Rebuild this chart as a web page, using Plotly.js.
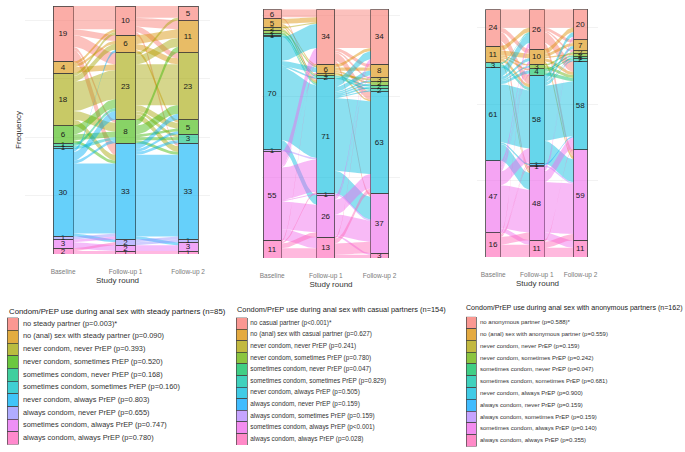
<!DOCTYPE html>
<html>
<head>
<meta charset="utf-8">
<script src="https://cdn.plot.ly/plotly-3.0.1.min.js"></script>
<style>body{margin:0;background:#fff}#chart{width:685px;height:452px}</style>
</head>
<body>
<div id="chart"></div>
<script>
var rounds = ['Baseline', 'Follow-up 1', 'Follow-up 2'];

// steady partners (n=85)
var steadyTitle = 'Condom/PrEP use during anal sex with steady partners (n=85)';
var steadyLabels = [
  'no steady partner (p=0.003)*',
  'no (anal) sex with steady partner (p=0.090)',
  'never condom, never PrEP (p=0.393)',
  'never condom, sometimes PrEP (p=0.520)',
  'sometimes condom, never PrEP (p=0.168)',
  'sometimes condom, sometimes PrEP (p=0.160)',
  'never condom, always PrEP (p=0.803)',
  'always condom, never PrEP (p=0.655)',
  'sometimes condom, always PrEP (p=0.747)',
  'always condom, always PrEP (p=0.780)'
];
var steadyColors = ['#F8766D', '#D89000', '#A3A500', '#39B600', '#00BF7D', '#00BFC4', '#00B0F6', '#9590FF', '#E76BF3', '#FF62BC'];
var steadyBaseline = [19, 4, 18, 6, 1, 1, 30, 1, 3, 2];
var steadyFollowUp1 = [10, 6, 23, 8, 0, 0, 33, 2, 2, 1];
var steadyFollowUp2 = [5, 11, 23, 5, 3, 0, 33, 1, 3, 1];
var steadyFlow1 = [
  [8, 2, 4, 1, 0, 0, 4, 0, 0, 0],
  [1, 1, 2, 0, 0, 0, 0, 0, 0, 0],
  [1, 2, 10, 3, 0, 0, 2, 0, 0, 0],
  [0, 0, 3, 2, 0, 0, 1, 0, 0, 0],
  [0, 0, 1, 0, 0, 0, 0, 0, 0, 0],
  [0, 0, 0, 1, 0, 0, 0, 0, 0, 0],
  [0, 1, 3, 1, 0, 0, 24, 1, 0, 0],
  [0, 0, 0, 0, 0, 0, 1, 0, 0, 0],
  [0, 0, 0, 0, 0, 0, 1, 0, 2, 0],
  [0, 0, 0, 0, 0, 0, 0, 1, 0, 1]
];
var steadyFlow2 = [
  [4, 3, 2, 0, 0, 0, 1, 0, 0, 0],
  [0, 3, 2, 1, 0, 0, 0, 0, 0, 0],
  [1, 3, 14, 2, 1, 0, 2, 0, 0, 0],
  [0, 2, 3, 1, 1, 0, 1, 0, 0, 0],
  [0, 0, 0, 0, 0, 0, 0, 0, 0, 0],
  [0, 0, 0, 0, 0, 0, 0, 0, 0, 0],
  [0, 0, 2, 1, 1, 0, 28, 0, 1, 0],
  [0, 0, 0, 0, 0, 0, 1, 1, 0, 0],
  [0, 0, 0, 0, 0, 0, 0, 0, 2, 0],
  [0, 0, 0, 0, 0, 0, 0, 0, 0, 1]
];

// casual partners (n=154)
var casualTitle = 'Condom/PrEP use during anal sex with casual partners (n=154)';
var casualLabels = [
  'no casual partner (p<0.001)*',
  'no (anal) sex with casual partner (p=0.627)',
  'never condom, never PrEP (p=0.241)',
  'never condom, sometimes PrEP (p=0.780)',
  'sometimes condom, never PrEP (p=0.047)',
  'sometimes condom, sometimes PrEP (p=0.829)',
  'never condom, always PrEP (p=0.505)',
  'always condom, never PrEP (p=0.159)',
  'always condom, sometimes PrEP (p=0.159)',
  'sometimes condom, always PrEP (p<0.001)',
  'always condom, always PrEP (p=0.028)'
];
var hue11 = ['#F8766D', '#DB8E00', '#AEA200', '#64B200', '#00BD5C', '#00C1A7', '#00BADE', '#00A6FF', '#B385FF', '#EF67EB', '#FF63B6'];
var casualBaseline = [6, 5, 2, 2, 1, 1, 70, 0, 1, 55, 11];
var casualFollowUp1 = [34, 6, 1, 0, 0, 2, 71, 0, 1, 26, 13];
var casualFollowUp2 = [34, 8, 3, 2, 2, 2, 63, 0, 0, 37, 3];
var casualFlow1 = [
  [5, 0, 0, 0, 0, 0, 1, 0, 0, 0, 0],
  [3, 1, 0, 0, 0, 0, 1, 0, 0, 0, 0],
  [1, 0, 1, 0, 0, 0, 0, 0, 0, 0, 0],
  [0, 1, 0, 0, 0, 0, 1, 0, 0, 0, 0],
  [0, 0, 0, 0, 0, 1, 0, 0, 0, 0, 0],
  [0, 0, 0, 0, 0, 0, 1, 0, 0, 0, 0],
  [15, 3, 0, 0, 0, 1, 45, 0, 0, 6, 0],
  [0, 0, 0, 0, 0, 0, 0, 0, 0, 0, 0],
  [0, 0, 0, 0, 0, 0, 1, 0, 0, 0, 0],
  [9, 1, 0, 0, 0, 0, 20, 0, 1, 17, 7],
  [1, 0, 0, 0, 0, 0, 1, 0, 0, 3, 6]
];
var casualFlow2 = [
  [24, 2, 1, 0, 0, 0, 5, 0, 0, 2, 0],
  [2, 2, 0, 1, 0, 0, 1, 0, 0, 0, 0],
  [0, 0, 1, 0, 0, 0, 0, 0, 0, 0, 0],
  [0, 0, 0, 0, 0, 0, 0, 0, 0, 0, 0],
  [0, 0, 0, 0, 0, 0, 0, 0, 0, 0, 0],
  [0, 0, 0, 0, 1, 1, 0, 0, 0, 0, 0],
  [5, 3, 1, 1, 1, 1, 45, 0, 0, 14, 0],
  [0, 0, 0, 0, 0, 0, 0, 0, 0, 0, 0],
  [0, 0, 0, 0, 0, 0, 0, 0, 0, 1, 0],
  [2, 1, 0, 0, 0, 0, 9, 0, 0, 13, 1],
  [1, 0, 0, 0, 0, 0, 3, 0, 0, 7, 2]
];

// anonymous partners (n=162)
var anonTitle = 'Condom/PrEP use during anal sex with anonymous partners (n=162)';
var anonLabels = [
  'no anonymous partner (p=0.588)*',
  'no (anal) sex with anonymous partner (p=0.559)',
  'never condom, never PrEP (p=0.159)',
  'never condom, sometimes PrEP (p=0.242)',
  'sometimes condom, never PrEP (p=0.047)',
  'sometimes condom, sometimes PrEP (p=0.681)',
  'never condom, always PrEP (p=0.900)',
  'always condom, never PrEP (p=0.159)',
  'always condom, sometimes PrEP (p=0.159)',
  'sometimes condom, always PrEP (p=0.140)',
  'always condom, always PrEP (p=0.355)'
];
var anonBaseline = [24, 11, 0, 0, 0, 3, 61, 0, 0, 47, 16];
var anonFollowUp1 = [26, 10, 0, 3, 4, 0, 58, 1, 1, 48, 11];
var anonFollowUp2 = [20, 7, 2, 2, 1, 2, 58, 0, 0, 59, 11];
var anonFlow1 = [
  [12, 3, 0, 0, 0, 0, 6, 0, 0, 3, 0],
  [3, 3, 0, 1, 1, 0, 2, 0, 0, 1, 0],
  [0, 0, 0, 0, 0, 0, 0, 0, 0, 0, 0],
  [0, 0, 0, 0, 0, 0, 0, 0, 0, 0, 0],
  [0, 0, 0, 0, 0, 0, 0, 0, 0, 0, 0],
  [1, 0, 0, 0, 0, 0, 2, 0, 0, 0, 0],
  [6, 2, 0, 1, 2, 0, 38, 1, 0, 11, 0],
  [0, 0, 0, 0, 0, 0, 0, 0, 0, 0, 0],
  [0, 0, 0, 0, 0, 0, 0, 0, 0, 0, 0],
  [3, 2, 0, 1, 1, 0, 9, 0, 0, 28, 3],
  [1, 0, 0, 0, 0, 0, 1, 0, 1, 5, 8]
];
var anonFlow2 = [
  [12, 2, 1, 0, 0, 0, 7, 0, 0, 4, 0],
  [3, 2, 0, 1, 0, 0, 2, 0, 0, 2, 0],
  [0, 0, 0, 0, 0, 0, 0, 0, 0, 0, 0],
  [0, 0, 1, 0, 0, 0, 2, 0, 0, 0, 0],
  [0, 0, 0, 1, 0, 1, 2, 0, 0, 0, 0],
  [0, 0, 0, 0, 0, 0, 0, 0, 0, 0, 0],
  [3, 2, 0, 0, 1, 1, 36, 0, 0, 15, 0],
  [0, 0, 0, 0, 0, 0, 1, 0, 0, 0, 0],
  [0, 0, 0, 0, 0, 0, 0, 0, 0, 1, 0],
  [2, 1, 0, 0, 0, 0, 7, 0, 0, 33, 5],
  [0, 0, 0, 0, 0, 0, 1, 0, 0, 4, 6]
];

var FONT = 'Liberation Sans, Arial, sans-serif';
var W = 685, H = 452;
function px(v) { return v / W; }
function py(v) { return 1 - v / H; }
function sum(a) { return a.reduce(function (s, v) { return s + v; }, 0); }
function tops(col) {
  var t = [], acc = sum(col);
  for (var k = 0; k < col.length; k++) { t.push(acc); acc -= col[k]; }
  return t;
}
function rgba(hex, a) {
  var n = parseInt(hex.slice(1), 16);
  return 'rgba(' + (n >> 16) + ',' + ((n >> 8) & 255) + ',' + (n & 255) + ',' + a + ')';
}
function ease(t) { return (1 - Math.cos(Math.PI * t)) / 2; }

var panels = [
  {labels: steadyLabels, colors: steadyColors, counts: [steadyBaseline, steadyFollowUp1, steadyFollowUp2],
   flows: [steadyFlow1, steadyFlow2], title: steadyTitle, ax: '', lax: '4', bw: 0.32,
   frame: {x0: 25, x1: 210, y0: 6, y1: 254, xr: [0.39, 3.35], dtick: 20},
   leg: {x0: 7, unit: 11, top: 317.6, row: 12.7, font: 7.4, gap: 0.45, tx: 7, ty: 311.5, tfont: 7.8}},
  {labels: casualLabels, colors: hue11, counts: [casualBaseline, casualFollowUp1, casualFollowUp2],
   flows: [casualFlow1, casualFlow2], title: casualTitle, ax: '2', lax: '5', bw: 0.335,
   frame: {x0: 262, x1: 400, y0: 9.3, y1: 258, xr: [0.81, 3.38], dtick: 50},
   leg: {x0: 236, unit: 11, top: 317.5, row: 11.6, font: 6.4, gap: 0.3, tx: 235, ty: 309.3, tfont: 7.4}},
  {labels: anonLabels, colors: hue11, counts: [anonBaseline, anonFollowUp1, anonFollowUp2],
   flows: [anonFlow1, anonFlow2], title: anonTitle, ax: '3', lax: '6', bw: 0.33,
   frame: {x0: 477, x1: 598, y0: 9.3, y1: 257, xr: [0.63, 3.4], dtick: 50},
   leg: {x0: 466, unit: 10, top: 316.8, row: 11.8, font: 6.0, gap: 0.4, tx: 464, ty: 308.3, tfont: 7.1}}
];

var traces = [];
var layout = {
  width: W, height: H,
  margin: {l: 0, r: 0, t: 0, b: 0},
  paper_bgcolor: '#fff', plot_bgcolor: '#fff',
  barmode: 'stack', hovermode: false, showlegend: false,
  font: {family: FONT, color: '#333'},
  annotations: []
};

panels.forEach(function (p, pi) {
  var xa = 'x' + p.ax, ya = 'y' + p.ax;
  var n = p.labels.length;
  var total = sum(p.counts[0]);

  // flows between neighbouring rounds
  for (var c = 0; c < 2; c++) {
    var src = p.counts[c], dst = p.counts[c + 1], m = p.flows[c];
    var sTop = tops(src), dTop = tops(dst);
    var a0 = {}, a1 = {};
    for (var i = 0; i < n; i++) {
      var off = 0;
      for (var j = 0; j < n; j++) if (m[i][j]) { a0[i + '_' + j] = sTop[i] - off; off += m[i][j]; }
    }
    for (var j2 = 0; j2 < n; j2++) {
      var off2 = 0;
      for (var i2 = 0; i2 < n; i2++) if (m[i2][j2]) { a1[i2 + '_' + j2] = dTop[j2] - off2; off2 += m[i2][j2]; }
    }
    var xs = c + 1 + p.bw / 2, xe = c + 2 - p.bw / 2;
    for (i = 0; i < n; i++) {
      for (j = 0; j < n; j++) {
        var v = m[i][j];
        if (!v) continue;
        var t0 = a0[i + '_' + j], t1 = a1[i + '_' + j];
        var X = [], Y = [], s, k, steps = 24;
        for (k = 0; k <= steps; k++) { s = k / steps; X.push(xs + (xe - xs) * s); Y.push(t0 + (t1 - t0) * ease(s)); }
        for (k = steps; k >= 0; k--) { s = k / steps; X.push(xs + (xe - xs) * s); Y.push(t0 - v + (t1 - t0) * ease(s)); }
        traces.push({
          type: 'scatter', mode: 'lines', x: X, y: Y, fill: 'toself',
          fillcolor: rgba(p.colors[i], 0.45), line: {width: 0, color: 'rgba(0,0,0,0)'},
          xaxis: xa, yaxis: ya, hoverinfo: 'skip', showlegend: false
        });
      }
    }
  }

  // strata boxes, last category at the bottom
  for (var q = n - 1; q >= 0; q--) {
    var vals = p.counts.map(function (col) { return col[q]; });
    traces.push({
      type: 'bar', x: [1, 2, 3], y: vals.map(function (v) { return v || null; }),
      width: p.bw,
      marker: {color: rgba(p.colors[q], 0.6), line: {color: '#404040', width: 0.8}},
      text: vals.map(function (v) { return v ? String(v) : ''; }),
      textposition: 'inside', insidetextanchor: 'middle', constraintext: 'none', textangle: 0,
      textfont: {size: 8, color: '#1a1a1a', family: FONT},
      xaxis: xa, yaxis: ya, hoverinfo: 'skip', showlegend: false
    });
  }

  var f = p.frame;
  layout['xaxis' + p.ax] = {
    domain: [px(f.x0), px(f.x1)], range: f.xr, anchor: ya,
    tickvals: [1, 2, 3], ticktext: rounds, ticks: '', ticklabelstandoff: 12,
    tickfont: {size: 6.5, color: '#7a7a7a'}, showgrid: false, zeroline: false, showline: false,
    title: {text: 'Study round', font: {size: 8, color: '#333'}, standoff: 2}
  };
  layout['yaxis' + p.ax] = {
    domain: [py(f.y1), py(f.y0)], range: [0, total], anchor: xa,
    dtick: f.dtick, showticklabels: false, ticks: '', zeroline: false, showline: false,
    gridcolor: '#ececec', gridwidth: 0.7
  };
  if (pi === 0) layout.yaxis.title = {text: 'Frequency', font: {size: 8, color: '#333'}, standoff: 1};

  // legend block drawn as swatches + labels
  var L = p.leg;
  var idx = p.labels.map(function (_, k) { return k; });
  var lxa = 'x' + p.lax, lya = 'y' + p.lax;
  traces.push({
    type: 'bar', orientation: 'h', y: idx, x: p.labels.map(function () { return 1; }), base: 0, width: 1,
    marker: {color: p.colors.map(function (c) { return rgba(c, 0.75); }), line: {color: '#444', width: 0.7}},
    xaxis: lxa, yaxis: lya, hoverinfo: 'skip', showlegend: false
  });
  traces.push({
    type: 'scatter', mode: 'text', y: idx, x: p.labels.map(function () { return 1 + L.gap; }),
    text: p.labels, textposition: 'middle right', cliponaxis: false,
    textfont: {size: L.font, color: '#333', family: FONT},
    xaxis: lxa, yaxis: lya, hoverinfo: 'skip', showlegend: false
  });
  layout['xaxis' + p.lax] = {domain: [px(L.x0), px(L.x0 + 19 * L.unit)], range: [0, 19], visible: false, anchor: lya};
  layout['yaxis' + p.lax] = {domain: [py(L.top + n * L.row), py(L.top)], range: [n - 0.5, -0.5], visible: false, anchor: lxa};
  layout.annotations.push({
    xref: 'paper', yref: 'paper', x: px(L.tx), y: py(L.ty), xanchor: 'left', yanchor: 'middle',
    text: p.title, showarrow: false, font: {size: L.tfont, color: '#222', family: FONT}
  });
});

Plotly.newPlot('chart', traces, layout, {displayModeBar: false, staticPlot: true});
</script>
</body>
</html>
